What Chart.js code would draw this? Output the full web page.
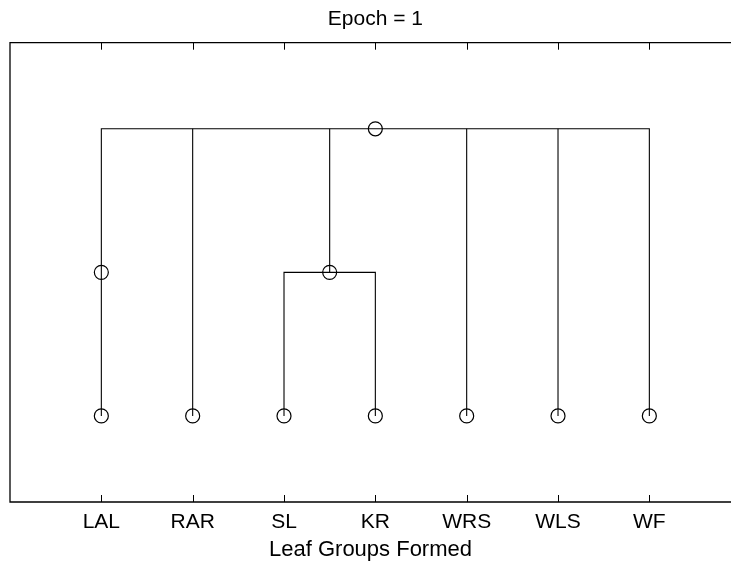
<!DOCTYPE html>
<html>
<head>
<meta charset="utf-8">
<script src="https://cdn.jsdelivr.net/npm/chart.js@4/dist/chart.umd.min.js"></script>
<style>
  html, body { margin: 0; padding: 0; background: #fff; overflow: hidden; }
  #wrap { width: 731px; height: 562px; }
  canvas { display: block; }
</style>
</head>
<body>
<div id="wrap"><canvas id="c" width="731" height="562"></canvas></div>
<script>
// ---- data ----
const chartTitle = 'Epoch = 1';
const xAxisTitle = 'Leaf Groups Formed';
const categories = ['LAL', 'RAR', 'SL', 'KR', 'WRS', 'WLS', 'WF'];
const xRange = [0, 7.894];   // the axes box (0..8) is cut off by the figure's right edge
const xCenter = 4;           // centre of the full axes box
const yRange = [0.4, 3.6];
// dendrogram branches (category position, level)
const branchRoot   = [[1, 1], [1, 3], [7, 3], [7, 1]];
const branchRAR    = [[2, 1], [2, 3]];
const branchSLKR   = [[3, 1], [3, 2], [4, 2], [4, 1]];
const branchSLKRup = [[3.5, 2], [3.5, 3]];
const branchWRS    = [[5, 1], [5, 3]];
const branchWLS    = [[6, 1], [6, 3]];
// node markers
const leafLevels = [1, 1, 1, 1, 1, 1, 1];
const clusterNodes = [[1, 2], [3.5, 2], [4, 3]];

const toPts = arr => arr.map(p => ({ x: p[0], y: p[1] }));
const branches = [branchRoot, branchRAR, branchSLKR, branchSLKRup, branchWRS, branchWLS];
const lineSets = branches.map(b => ({
  type: 'line', data: toPts(b), borderColor: '#000', borderWidth: 1.1,
  pointRadius: 0, fill: false, tension: 0, showLine: true
}));
const markerPts = leafLevels.map((y, i) => ({ x: i + 1, y })).concat(toPts(clusterNodes));
const markerSet = {
  type: 'scatter', data: markerPts, pointStyle: 'circle', pointRadius: 7,
  pointBorderWidth: 1.2, pointBorderColor: '#000', pointBackgroundColor: 'rgba(0,0,0,0)', showLine: false
};

const frame = {
  id: 'frame',
  afterLayout(chart) {
    const tb = chart.titleBlock;
    const cx = chart.scales.x.getPixelForValue(xCenter);
    if (tb) { tb.left = 2 * cx - tb.right; }
  },
  afterDatasetsDraw(chart) {
    const { ctx, chartArea: a, scales: { x } } = chart;
    ctx.save();
    ctx.strokeStyle = '#000';
    ctx.lineWidth = 1.3;
    ctx.beginPath();
    ctx.moveTo(chart.width + 5, a.top);
    ctx.lineTo(a.left, a.top);
    ctx.lineTo(a.left, a.bottom);
    ctx.lineTo(chart.width + 5, a.bottom);
    ctx.stroke();
    ctx.lineWidth = 1;
    ctx.beginPath();
    categories.forEach((c, i) => {
      const px = Math.round(x.getPixelForValue(i + 1)) + 0.5;
      ctx.moveTo(px, a.top); ctx.lineTo(px, a.top + 7);
      ctx.moveTo(px, a.bottom); ctx.lineTo(px, a.bottom - 7);
    });
    ctx.stroke();
    ctx.restore();
  }
};

const font = { family: "'Liberation Sans', Arial, Helvetica, sans-serif", size: 21 };

new Chart(document.getElementById('c'), {
  data: { datasets: lineSets.concat([markerSet]) },
  options: {
    responsive: false, animation: false, devicePixelRatio: 1,
    layout: { autoPadding: false, padding: { left: 10, right: 0, top: 0, bottom: 0 } },
    plugins: {
      legend: { display: false }, tooltip: { enabled: false },
      title: { display: true, text: chartTitle, color: '#000', font: { ...font, weight: 'normal' }, padding: { top: 7, bottom: 10.5 } }
    },
    scales: {
      x: {
        type: 'linear', min: xRange[0], max: xRange[1],
        grid: { display: false, drawTicks: false }, border: { display: false },
        ticks: {
          stepSize: 1, autoSkip: false, includeBounds: false, maxRotation: 0, padding: 0, color: '#000',
          font: { ...font, lineHeight: 40 / 21 },
          callback: v => (Number.isInteger(v) && v >= 1 && v <= categories.length) ? categories[v - 1] : ''
        },
        title: { display: true, text: xAxisTitle, color: '#000', font: { ...font, size: 22, lineHeight: 16 / 22 }, padding: { top: 0, bottom: 4 } }
      },
      y: { type: 'linear', display: false, min: yRange[0], max: yRange[1] }
    }
  },
  plugins: [frame]
});
</script>
</body>
</html>
